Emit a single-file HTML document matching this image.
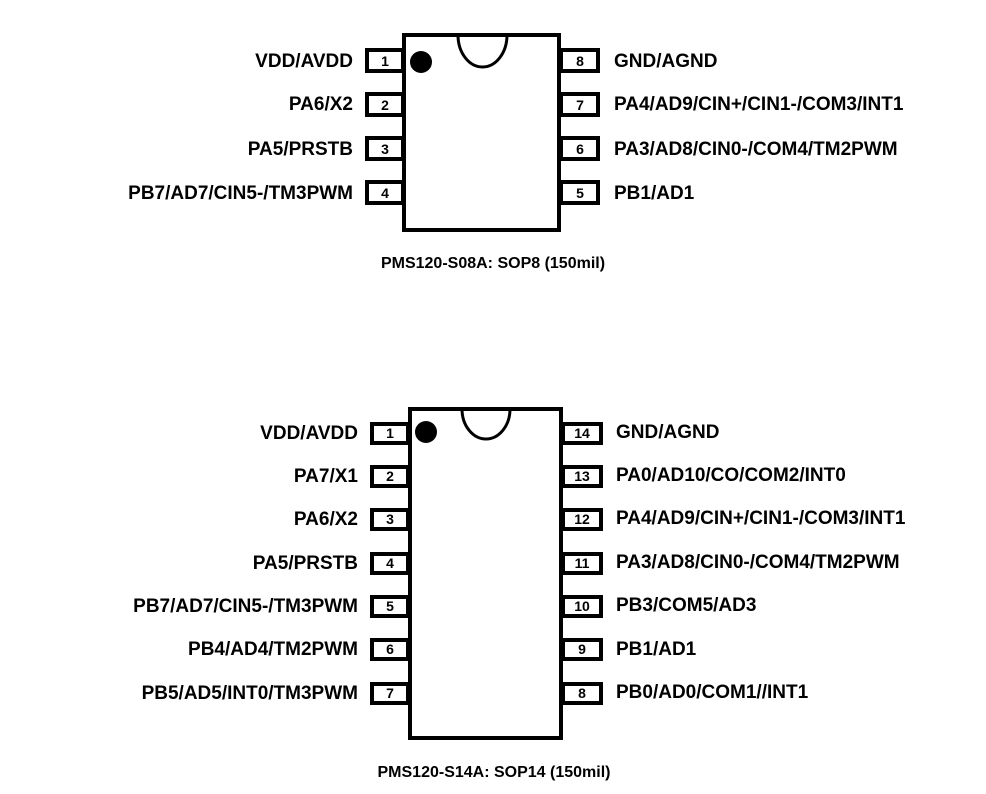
<!DOCTYPE html>
<html><head><meta charset="utf-8"><style>
html,body{margin:0;padding:0;background:#fff}
svg{display:block}
text{font-family:"Liberation Sans",Arial,sans-serif;font-weight:bold;fill:#000}
</style></head><body>
<svg width="986" height="794" viewBox="0 0 986 794" xmlns="http://www.w3.org/2000/svg">
<g fill="#fff" stroke="#000" stroke-width="4">
<rect x="404" y="35" width="155" height="195"/>
<rect x="367" y="50" width="36" height="21"/>
<rect x="367" y="94" width="36" height="21"/>
<rect x="367" y="138" width="36" height="21"/>
<rect x="367" y="182" width="36" height="21"/>
<rect x="561" y="50" width="37" height="21"/>
<rect x="561" y="94" width="37" height="21"/>
<rect x="561" y="138" width="37" height="21"/>
<rect x="561" y="182" width="37" height="21"/>
</g>
<path d="M458 35 A24.5 32 0 0 0 507 35" fill="none" stroke="#000" stroke-width="3"/>
<circle cx="421" cy="62" r="11" fill="#000"/>
<g font-size="14" text-anchor="middle">
<text x="385" y="66">1</text><text x="385" y="110">2</text><text x="385" y="154">3</text><text x="385" y="198">4</text>
<text x="580" y="66">8</text><text x="580" y="110">7</text><text x="580" y="154">6</text><text x="580" y="198">5</text>
</g>
<g font-size="19" text-anchor="end">
<text x="353" y="67">VDD/AVDD</text><text x="353" y="110">PA6/X2</text><text x="353" y="155">PA5/PRSTB</text><text x="353" y="199">PB7/AD7/CIN5-/TM3PWM</text>
</g>
<g font-size="19">
<text x="614" y="67">GND/AGND</text><text x="614" y="110">PA4/AD9/CIN+/CIN1-/COM3/INT1</text><text x="614" y="155">PA3/AD8/CIN0-/COM4/TM2PWM</text><text x="614" y="199">PB1/AD1</text>
</g>
<text x="493" y="268" font-size="16" text-anchor="middle">PMS120-S08A: SOP8 (150mil)</text>

<g fill="#fff" stroke="#000" stroke-width="4">
<rect x="410" y="409" width="151" height="329"/>
<rect x="372" y="424" width="36" height="19"/>
<rect x="372" y="467" width="36" height="19"/>
<rect x="372" y="510" width="36" height="19"/>
<rect x="372" y="554" width="36" height="19"/>
<rect x="372" y="597" width="36" height="19"/>
<rect x="372" y="640" width="36" height="19"/>
<rect x="372" y="684" width="36" height="19"/>
<rect x="563" y="424" width="38" height="19"/>
<rect x="563" y="467" width="38" height="19"/>
<rect x="563" y="510" width="38" height="19"/>
<rect x="563" y="554" width="38" height="19"/>
<rect x="563" y="597" width="38" height="19"/>
<rect x="563" y="640" width="38" height="19"/>
<rect x="563" y="684" width="38" height="19"/>
</g>
<path d="M462 409 A24 30 0 0 0 510 409" fill="none" stroke="#000" stroke-width="3"/>
<circle cx="426" cy="432" r="11" fill="#000"/>
<g font-size="14" text-anchor="middle">
<text x="390" y="438">1</text><text x="390" y="481">2</text><text x="390" y="524">3</text><text x="390" y="568">4</text><text x="390" y="611">5</text><text x="390" y="654">6</text><text x="390" y="698">7</text>
<text x="582" y="438">14</text><text x="582" y="481">13</text><text x="582" y="524">12</text><text x="582" y="568">11</text><text x="582" y="611">10</text><text x="582" y="654">9</text><text x="582" y="698">8</text>
</g>
<g font-size="19" text-anchor="end">
<text x="358" y="439">VDD/AVDD</text><text x="358" y="482">PA7/X1</text><text x="358" y="525">PA6/X2</text><text x="358" y="569">PA5/PRSTB</text><text x="358" y="612">PB7/AD7/CIN5-/TM3PWM</text><text x="358" y="655">PB4/AD4/TM2PWM</text><text x="358" y="699">PB5/AD5/INT0/TM3PWM</text>
</g>
<g font-size="19">
<text x="616" y="438">GND/AGND</text><text x="616" y="481">PA0/AD10/CO/COM2/INT0</text><text x="616" y="524">PA4/AD9/CIN+/CIN1-/COM3/INT1</text><text x="616" y="568">PA3/AD8/CIN0-/COM4/TM2PWM</text><text x="616" y="611">PB3/COM5/AD3</text><text x="616" y="655">PB1/AD1</text><text x="616" y="698">PB0/AD0/COM1//INT1</text>
</g>
<text x="494" y="777" font-size="16" text-anchor="middle">PMS120-S14A: SOP14 (150mil)</text>
</svg>
</body></html>
